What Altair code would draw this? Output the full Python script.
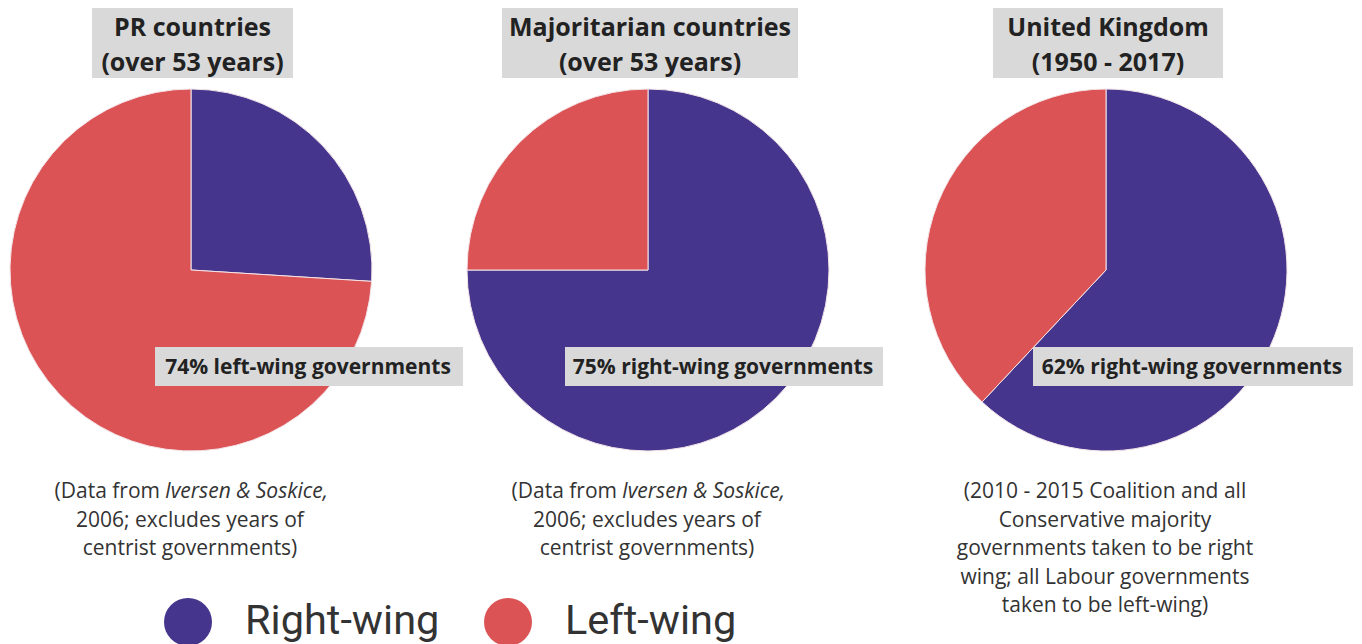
import altair as alt
import pandas as pd

# ---- data ----
panels = ["PR countries", "Majoritarian countries", "United Kingdom"]
title_line1 = ["PR countries", "Majoritarian countries", "United Kingdom"]
title_line2 = ["(over 53 years)", "(over 53 years)", "(1950 - 2017)"]
sides = ["Right-wing", "Left-wing"]
right_share = [26, 75, 62]
left_share = [74, 25, 38]
callouts = ["74% left-wing governments", "75% right-wing governments", "62% right-wing governments"]
note_first_regular = ["(Data from", "(Data from", None]
note_first_italic = ["Iversen & Soskice,", "Iversen & Soskice,", None]
note_lines = [
    ["2006; excludes years of", "centrist governments)"],
    ["2006; excludes years of", "centrist governments)"],
    ["(2010 - 2015 Coalition and all", "Conservative majority",
     "governments taken to be right", "wing; all Labour governments",
     "taken to be left-wing)"],
]

# ---- layout / style ----
PURPLE = "#45358c"
RED = "#db5355"
GRAY = "#d9d9d9"
DARK = "#222222"
NOTE = "#333333"
FONT = "Open Sans"
W, H = 1346, 636
R = 181
centers = [183, 640, 1098]
CY = 262
title_boxes = [(84, 285), (494, 790), (985, 1215)]
callout_boxes = [(147, 455), (557, 875), (1025, 1345)]
NOTE_SIZE = 21

one = alt.Data(values=[{}])
layers = []

color = alt.Color(
    "side:N",
    scale=alt.Scale(domain=sides, range=[PURPLE, RED]),
    legend=alt.Legend(
        orient="none", legendX=156, legendY=590, direction="horizontal",
        title=None, symbolType="circle", symbolSize=2304, symbolStrokeWidth=0,
        symbolOpacity=1, labelFontSize=41.5, labelFont="Roboto", labelColor="#333333",
        labelOffset=33, columnPadding=44, labelLimit=400,
    ),
)

for i in range(3):
    cx = centers[i]
    df = pd.DataFrame({"side": sides, "value": [right_share[i], left_share[i]], "ord": [0, 1]})
    layers.append(
        alt.Chart(df).mark_arc(outerRadius=R, stroke="#f4e4e8", strokeWidth=1).encode(
            theta=alt.Theta("value:Q", stack=True, scale=alt.Scale(domain=[0, 100])),
            color=color,
            order=alt.Order("ord:Q"),
            x=alt.value(cx),
            y=alt.value(CY),
        )
    )
    # title box
    x0, x1 = title_boxes[i]
    layers.append(
        alt.Chart(one).mark_rect(color=GRAY).encode(
            x=alt.value(x0), x2=alt.value(x1), y=alt.value(0), y2=alt.value(70)
        )
    )
    for k, (txt, yb) in enumerate([(title_line1[i], 28), (title_line2[i], 63)]):
        layers.append(
            alt.Chart(one).mark_text(
                font=FONT, fontSize=25, fontWeight="bold", color=DARK,
                align="center", baseline="alphabetic",
            ).encode(x=alt.value((x0 + x1) / 2), y=alt.value(yb), text=alt.value(txt))
        )
    # callout box
    c0, c1 = callout_boxes[i]
    layers.append(
        alt.Chart(one).mark_rect(color=GRAY).encode(
            x=alt.value(c0), x2=alt.value(c1), y=alt.value(339), y2=alt.value(378)
        )
    )
    layers.append(
        alt.Chart(one).mark_text(
            font=FONT, fontSize=21, fontWeight="bold", color=DARK,
            align="center", baseline="alphabetic",
        ).encode(x=alt.value((c0 + c1) / 2 - 1), y=alt.value(366), text=alt.value(callouts[i]))
    )
    # notes
    lines = note_lines[i]
    y0 = 490
    step = 28.5
    if note_first_regular[i] is not None:
        layers.append(
            alt.Chart(one).mark_text(
                font=FONT, fontSize=NOTE_SIZE, color=NOTE, align="right", baseline="alphabetic",
            ).encode(x=alt.value(cx - 31), y=alt.value(y0), text=alt.value(note_first_regular[i]))
        )
        layers.append(
            alt.Chart(one).mark_text(
                font=FONT, fontSize=NOTE_SIZE, fontStyle="italic", color=NOTE,
                align="left", baseline="alphabetic",
            ).encode(x=alt.value(cx - 26), y=alt.value(y0), text=alt.value(note_first_italic[i]))
        )
        start = 1
    else:
        start = 0
    for k, line in enumerate(lines):
        layers.append(
            alt.Chart(one).mark_text(
                font=FONT, fontSize=NOTE_SIZE, color=NOTE, align="center", baseline="alphabetic",
            ).encode(x=alt.value(cx - 1), y=alt.value(y0 + step * (k + start)), text=alt.value(line))
        )

chart = (
    alt.layer(*layers)
    .properties(width=W, height=H, padding=0, autosize=alt.AutoSizeParams(type="none"))
    .configure_view(strokeWidth=0)
)

chart.save("out.html", embed_options={"renderer": "svg", "actions": False})
